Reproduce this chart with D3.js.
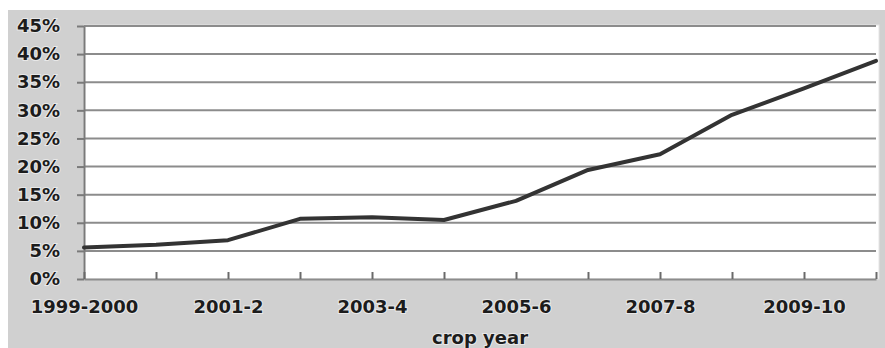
<!DOCTYPE html>
<html>
<head>
<meta charset="utf-8">
<script src="https://cdn.jsdelivr.net/npm/d3@7"></script>
<style>
  html, body { margin: 0; padding: 0; background: #ffffff; }
  svg { display: block; }
  text { font-family: "DejaVu Sans", sans-serif; font-weight: bold; font-size: 18px; fill: #1c1c1c;
         paint-order: stroke; stroke: rgba(255,255,255,0.55); stroke-width: 2px; }
</style>
</head>
<body>
<svg id="chart" width="885" height="348"></svg>
<script>
// Crop years and share per year (percent)
const cropYears = ["1999-2000", "2000-1", "2001-2", "2002-3", "2003-4", "2004-5",
                   "2005-6", "2006-7", "2007-8", "2008-9", "2009-10", "2010-11"];
const shareValues = [5.6, 6.1, 6.9, 10.7, 11.0, 10.5, 13.9, 19.4, 22.2, 29.2, 33.9, 38.8];
const yTickValues = [0, 5, 10, 15, 20, 25, 30, 35, 40, 45];
const xLabelYears = ["1999-2000", "2001-2", "2003-4", "2005-6", "2007-8", "2009-10"];
const xTitle = "crop year";

const svg = d3.select("#chart");
const plot = { left: 84, right: 876, top: 26, bottom: 279 };

// Chart background
svg.append("rect").attr("x", 8).attr("y", 10).attr("width", 877).attr("height", 338)
  .attr("fill", "#d0d0d0");
// Plot area
svg.append("rect").attr("x", plot.left).attr("y", plot.top - 1)
  .attr("width", plot.right - plot.left + 3).attr("height", plot.bottom - plot.top + 1)
  .attr("fill", "#ffffff").attr("stroke", "#e4e4e4").attr("stroke-width", 1);

const x = d3.scalePoint().domain(cropYears).range([plot.left, plot.right]);
const y = d3.scaleLinear().domain([0, 45]).range([plot.bottom, plot.top]);

// Horizontal gridlines
svg.append("g").selectAll("line").data(yTickValues.filter(v => v > 0)).join("line")
  .attr("x1", plot.left).attr("x2", plot.right)
  .attr("y1", d => y(d)).attr("y2", d => y(d))
  .attr("stroke", "#8c8c8c").attr("stroke-width", 2);

// Y axis
const yAxis = svg.append("g").attr("transform", `translate(${plot.left},0)`)
  .call(d3.axisLeft(y).tickValues(yTickValues).tickFormat(d => d + "%")
    .tickSizeInner(7).tickSizeOuter(0).tickPadding(17));
yAxis.select(".domain").attr("stroke", "#7a7a7a").attr("stroke-width", 2);
yAxis.selectAll(".tick line").attr("stroke", "#7a7a7a").attr("stroke-width", 2);
yAxis.selectAll("text").attr("font-size", null).attr("font-family", null).attr("fill", null);

// X axis with upward tick marks
const xAxis = svg.append("g").attr("transform", `translate(0,${plot.bottom})`)
  .call(d3.axisBottom(x).tickSizeInner(-7).tickSizeOuter(0).tickPadding(21)
    .tickFormat(d => xLabelYears.includes(d) ? d : ""));
xAxis.select(".domain").attr("stroke", "#8c8c8c").attr("stroke-width", 2);
xAxis.selectAll(".tick line").attr("stroke", "#6a6a6a").attr("stroke-width", 2);
xAxis.selectAll("text").attr("font-size", null).attr("font-family", null).attr("fill", null);

// Axis title
svg.append("text").attr("x", (plot.left + plot.right) / 2).attr("y", 344)
  .attr("text-anchor", "middle").text(xTitle);

// Data line
const line = d3.line().x((d, i) => x(cropYears[i])).y(d => y(d));
svg.append("path").datum(shareValues).attr("d", line)
  .attr("fill", "none").attr("stroke", "#333333").attr("stroke-width", 4)
  .attr("stroke-linejoin", "round").attr("stroke-linecap", "round");
</script>
</body>
</html>
